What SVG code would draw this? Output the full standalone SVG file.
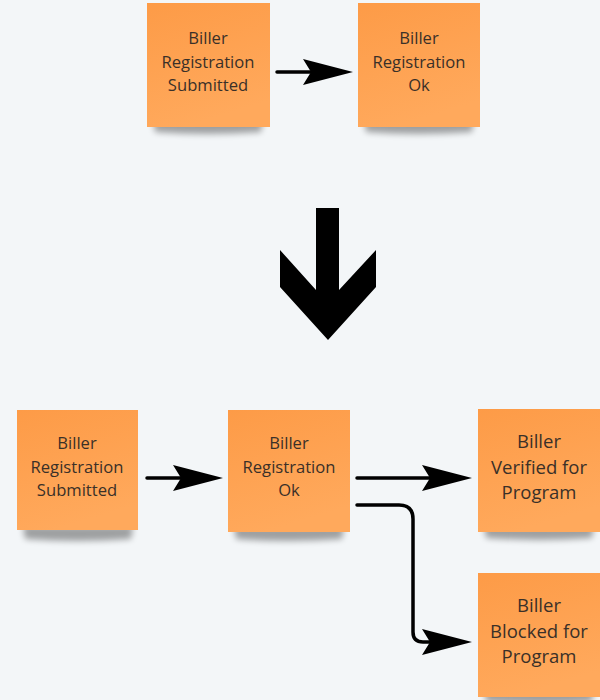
<svg xmlns="http://www.w3.org/2000/svg" width="600" height="700" viewBox="0 0 600 700">
  <style>
    .note { fill: url(#sticky); }
    .label { font-family: "Open Sans", "Liberation Sans", sans-serif; font-size: 16.6px; fill: #3a3028; text-anchor: middle; }
    .big { font-size: 18.5px; }
    .line { fill: none; stroke: #000; stroke-width: 3.5; stroke-linecap: round; }
    .head { fill: #000; }
  </style>
  <defs>
    <linearGradient id="sticky" x1="0" y1="0" x2="0.3" y2="1">
      <stop offset="0" stop-color="#fd9b47"/>
      <stop offset="1" stop-color="#ffa95c"/>
    </linearGradient>
    <filter id="soft" x="-20%" y="-100%" width="140%" height="300%">
      <feGaussianBlur stdDeviation="3"/>
    </filter>
    <g id="shadow">
      <path d="M6 116 L116 116 L114 129 Q60 133 8 129 Z" fill="#000" opacity="0.35" filter="url(#soft)"/>
    </g>
    <path id="barb" d="M0 0 L-50 -13 L-42 0 L-50 13 Z"/>
  </defs>

  <rect width="600" height="700" fill="#f3f6f8"/>

  <!-- first stage -->
  <g id="top-submitted">
    <use href="#shadow" x="147" y="3"/>
    <rect class="note" x="147" y="3" width="123" height="124"/>
    <text class="label" x="208" y="44">Biller</text>
    <text class="label" x="208" y="68">Registration</text>
    <text class="label" x="208" y="91">Submitted</text>
  </g>
  <g id="top-ok">
    <use href="#shadow" x="358" y="3"/>
    <rect class="note" x="358" y="3" width="122" height="124"/>
    <text class="label" x="419" y="44">Biller</text>
    <text class="label" x="419" y="68">Registration</text>
    <text class="label" x="419" y="91">Ok</text>
  </g>

  <!-- big transition arrow -->
  <g id="transition">
    <polygon fill="#000" points="316,208 339,208 339,290 376,250 376,287 328,340 280,287 280,250 316,290"/>
  </g>

  <!-- second stage -->
  <g id="submitted">
    <use href="#shadow" x="17" y="410"/>
    <rect class="note" x="17" y="410" width="121" height="120"/>
    <text class="label" x="77" y="449">Biller</text>
    <text class="label" x="77" y="473">Registration</text>
    <text class="label" x="77" y="496">Submitted</text>
  </g>
  <g id="ok">
    <use href="#shadow" x="228" y="410"/>
    <rect class="note" x="228" y="410" width="122" height="122"/>
    <text class="label" x="289" y="449">Biller</text>
    <text class="label" x="289" y="473">Registration</text>
    <text class="label" x="289" y="496">Ok</text>
  </g>
  <g id="verified">
    <use href="#shadow" x="478" y="409"/>
    <rect class="note" x="478" y="409" width="122" height="123"/>
    <text class="label big" x="539" y="448">Biller</text>
    <text class="label big" x="539" y="474">Verified for</text>
    <text class="label big" x="539" y="499">Program</text>
  </g>
  <g id="blocked">
    <use href="#shadow" x="478" y="573"/>
    <rect class="note" x="478" y="573" width="122" height="124"/>
    <text class="label big" x="539" y="612">Biller</text>
    <text class="label big" x="539" y="638">Blocked for</text>
    <text class="label big" x="539" y="663">Program</text>
  </g>

  <!-- connectors -->
  <g id="connectors">
    <line class="line" x1="277" y1="72" x2="315" y2="72"/>
    <use href="#barb" class="head" x="353" y="72"/>

    <line class="line" x1="147" y1="478" x2="185" y2="478"/>
    <use href="#barb" class="head" x="223" y="478"/>

    <line class="line" x1="357" y1="478" x2="434" y2="478"/>
    <use href="#barb" class="head" x="472" y="478"/>

    <path class="line" d="M357 505 L399 505 Q413 505 413 519 L413 632 Q413 642 423 642 L434 642"/>
    <use href="#barb" class="head" x="472" y="642"/>
  </g>
</svg>
